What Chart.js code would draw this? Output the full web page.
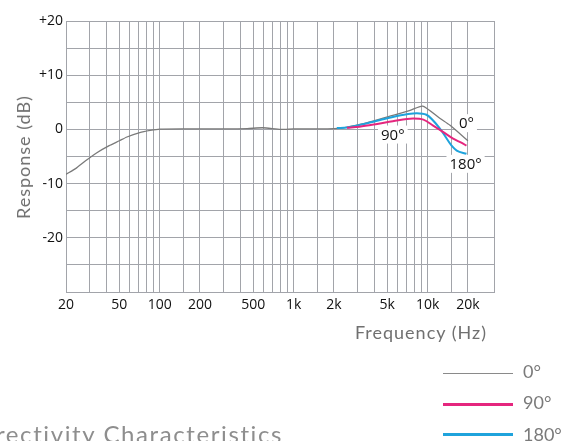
<!DOCTYPE html>
<html>
<head>
<meta charset="utf-8">
<script src="https://cdn.jsdelivr.net/npm/chart.js@4/dist/chart.umd.min.js"></script>
<style>
    body { margin: 0; background: #fff; overflow: hidden; }
    #wrap { position: relative; width: 566px; height: 441px; overflow: hidden; }
    #chart { position: absolute; left: 0; top: 0; }
    .txt { position: absolute; white-space: nowrap; font-family: Lato, sans-serif; color: #707070; }
    .key { position: absolute; left: 443px; width: 70px; }
</style>
</head>
<body>
<div id="wrap">
    <canvas id="chart" width="566" height="441"></canvas>
    <div class="txt" id="ytitle" style="font-size:18px;letter-spacing:1px;left:23px;top:157px;transform:translate(-50%,-50%) rotate(-90deg);">Response (dB)</div>
    <div class="txt" style="font-size:18px;letter-spacing:1px;right:79px;top:321px;line-height:22px;">Frequency (Hz)</div>

    <div class="key" style="top:372.5px;height:1.5px;background:#8a8a8a;"></div>
    <div class="key" style="top:402.5px;height:3px;background:#e5267e;"></div>
    <div class="key" style="top:433px;height:3px;background:#1fa3dc;"></div>
    <div class="txt" style="font-size:18px;left:523px;top:360px;line-height:22px;color:#7a7a7a;">0°</div>
    <div class="txt" style="font-size:18px;left:523px;top:391px;line-height:22px;color:#7a7a7a;">90°</div>
    <div class="txt" style="font-size:18px;left:523px;top:423px;line-height:22px;color:#7a7a7a;">180°</div>

    <div class="txt" style="font-size:24px;letter-spacing:1.6px;right:283px;top:422px;line-height:24px;color:#8e8e8e;">Directivity Characteristics</div>
</div>

<script>
// frequency response
const freq0 = [20, 24, 28, 34, 42, 50, 57, 71, 85, 100, 150, 300, 450, 590, 800, 1000, 1500, 2000, 2350, 2950, 3500, 5500, 7400, 9200, 12400, 14700, 20000];
const resp0 = [-8.3, -7.1, -5.8, -4.3, -3.0, -2.1, -1.4, -0.6, -0.2, 0.05, 0.1, 0.1, 0.15, 0.3, 0.0, 0.1, 0.1, 0.15, 0.3, 0.8, 1.2, 2.6, 3.5, 4.3, 2.0, 0.75, -2.1];

const freq90 = [2500, 3100, 4200, 5500, 7800, 9300, 11000, 13100, 15500, 18000, 19500];
const resp90 = [0.3, 0.5, 1.0, 1.5, 2.0, 1.8, 0.7, -0.5, -1.7, -2.5, -3.0];

const freq180 = [2100, 2500, 3100, 4200, 5500, 7000, 8300, 9800, 12400, 15100, 16500, 19500];
const resp180 = [0.25, 0.35, 0.8, 1.6, 2.3, 2.8, 3.0, 2.7, 0.1, -3.0, -3.9, -4.5];

// axis grid and tick labels
const xGridFreqs = [20, 30, 40, 50, 60, 70, 80, 90, 100, 150, 200, 300, 400, 500, 600, 700, 800, 900,
    1000, 1500, 2000, 3000, 4000, 5000, 6000, 7000, 8000, 9000, 10000, 15000, 20000, 31300];
const xLabelFreqs = [20, 50, 100, 200, 500, 1000, 2000, 5000, 10000, 20000];
const xLabels = ['20', '50', '100', '200', '500', '1k', '2k', '5k', '10k', '20k'];
const yLabelValues = [20, 10, 0, -10, -20];
const yLabels = ['+20', '+10', '0', '-10', '-20'];

// angle labels next to the curves
const curveNames = ['0°', '90°', '180°'];
const curveNameFreq = [19500, 5500, 19200];
const curveNameDb = [1.15, -0.95, -6.35];

function points(xs, ys) {
    return xs.map((x, i) => ({ x: x, y: ys[i] }));
}

const gridColor = '#a2a4aa';
const tickFont = { family: '"Open Sans", "Noto Sans", sans-serif', size: 14, weight: 500 };

const curveNamePlugin = {
    id: 'curveNames',
    beforeDatasetsDraw(chart) {
        const ctx = chart.ctx;
        const xs = chart.scales.x;
        const ys = chart.scales.y;
        ctx.save();
        ctx.font = '500 15px "Open Sans", "Noto Sans", sans-serif';
        ctx.textAlign = 'center';
        ctx.textBaseline = 'middle';
        curveNames.forEach((name, i) => {
            const px = xs.getPixelForValue(curveNameFreq[i]);
            const py = ys.getPixelForValue(curveNameDb[i]);
            const w = ctx.measureText(name).width + 6;
            ctx.fillStyle = '#fff';
            ctx.fillRect(px - w / 2, py - 9, w, 18);
            ctx.fillStyle = '#111';
            ctx.fillText(name, px, py + 1);
        });
        ctx.restore();
    }
};

new Chart(document.getElementById('chart'), {
    type: 'line',
    data: {
        datasets: [
            {
                label: '90°',
                data: points(freq90, resp90),
                borderColor: '#e5267e',
                borderWidth: 2,
                cubicInterpolationMode: 'monotone'
            },
            {
                label: '180°',
                data: points(freq180, resp180),
                borderColor: '#1fa3dc',
                borderWidth: 2,
                cubicInterpolationMode: 'monotone'
            },
            {
                label: '0°',
                data: points(freq0, resp0),
                borderColor: '#7a7a7a',
                borderWidth: 1.3,
                tension: 0.2,
                order: 1
            }
        ]
    },
    options: {
        responsive: false,
        animation: false,
        devicePixelRatio: 1,
        elements: { point: { radius: 0 } },
        layout: { padding: { left: 0, top: 21, right: 72, bottom: 119 } },
        plugins: {
            legend: { display: false },
            tooltip: { enabled: false }
        },
        scales: {
            x: {
                type: 'logarithmic',
                min: 20,
                max: 31300,
                afterBuildTicks: function(scale) {
                    scale.ticks = xGridFreqs.map(v => ({ value: v }));
                },
                afterFit: function(scale) {
                    scale.height = 30;
                },
                grid: { color: gridColor, lineWidth: 1, drawTicks: false },
                border: { color: gridColor, width: 1 },
                ticks: {
                    autoSkip: false,
                    maxRotation: 0,
                    padding: 5,
                    color: '#111',
                    font: tickFont,
                    callback: function(value) {
                        const i = xLabelFreqs.indexOf(value);
                        return i >= 0 ? xLabels[i] : '';
                    }
                }
            },
            y: {
                min: -30,
                max: 20,
                afterFit: function(scale) {
                    scale.width = 66;
                },
                grid: { color: gridColor, lineWidth: 1, drawTicks: false },
                border: { color: gridColor, width: 1 },
                ticks: {
                    stepSize: 5,
                    padding: 3,
                    color: '#111',
                    font: tickFont,
                    callback: function(value) {
                        const i = yLabelValues.indexOf(value);
                        return i >= 0 ? yLabels[i] : '';
                    }
                }
            }
        }
    },
    plugins: [curveNamePlugin]
});
</script>
</body>
</html>
